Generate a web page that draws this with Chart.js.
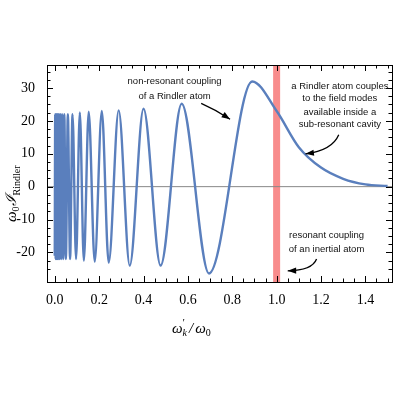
<!DOCTYPE html>
<html><head><meta charset="utf-8">
<script src="https://cdn.jsdelivr.net/npm/chart.js@4"></script>
<style>html,body{margin:0;background:#fff}#c{width:400px;height:400px}</style>
</head><body><div id="c"><canvas id="chart"></canvas></div>
<script>
// extrema of the curve, then the decaying tail
const curveX = [0.000, 0.002, 0.004, 0.006, 0.008, 0.010, 0.012, 0.014, 0.016, 0.019, 0.022, 0.025, 0.029, 0.033, 0.038, 0.043, 0.050, 0.059, 0.069, 0.080, 0.096,
  0.113, 0.131, 0.153, 0.180, 0.212, 0.243, 0.288, 0.338, 0.400, 0.477, 0.572, 0.695, 0.890,
  1.000, 1.100, 1.200, 1.300, 1.400, 1.500];
const curveY = [-21, 22, -22, 22, -22, 22, -22, 22, -22, 22, -22, 22, -22, 22, -22, 22, -22, 22, -22, 22, -22,
  22.6, -22.5, 22.8, -22.8, 23.0, -23.1, 23.2, -24.0, 23.7, -24.0, 25.2, -26.4, 32.0,
  23.0, 12.0, 5.8, 2.4, 0.7, 0.2];
const xTicks = [0.0, 0.2, 0.4, 0.6, 0.8, 1.0, 1.2, 1.4];
const yTicks = [-20, -10, 0, 10, 20, 30];
const resonance = 1.0;
const xRange = [-0.035, 1.52];
const yRange = [-29, 37];

const notes = [
  { lines: ['non-resonant coupling', 'of a Rindler atom'], x: 0.54, y: [32, 27.6],
    arrow: [[0.66, 25.3], [0.73, 23.2], [0.79, 20.5]] },
  { lines: ['a Rindler atom couples', 'to the field modes', 'available inside a', 'sub-resonant cavity'], x: 1.285, y: [30.6, 26.7, 22.7, 18.8],
    arrow: [[1.28, 15.8], [1.25, 11], [1.13, 10.0]] },
  { lines: ['resonant coupling', 'of an inertial atom'], x: 1.225, y: [-14.8, -19],
    arrow: [[1.18, -22], [1.16, -25.5], [1.05, -25.6]] }
];

function arrowHead(ctx, x0, y0, x1, y1) {
  const a = Math.atan2(y1 - y0, x1 - x0), L = 9, w = 0.35;
  ctx.beginPath();
  ctx.moveTo(x1, y1);
  ctx.lineTo(x1 - L * Math.cos(a - w), y1 - L * Math.sin(a - w));
  ctx.lineTo(x1 - L * Math.cos(a + w), y1 - L * Math.sin(a + w));
  ctx.closePath(); ctx.fill();
}

const decor = {
  id: 'decor',
  afterDraw(chart) {
    const { ctx, chartArea: a, scales: { x, y } } = chart;
    ctx.save();
    ctx.strokeStyle = '#000'; ctx.lineWidth = 1;
    ctx.strokeRect(a.left + 0.5, a.top + 0.5, a.width, a.height);
    // inward ticks
    ctx.beginPath();
    for (let v = -0.0; v <= 1.5001; v += 0.05) {
      const px = Math.round(x.getPixelForValue(v)) + 0.5;
      const major = Math.abs(v * 5 - Math.round(v * 5)) < 1e-6;
      const L = major ? 6 : 3.5;
      ctx.moveTo(px, a.bottom); ctx.lineTo(px, a.bottom - L);
      ctx.moveTo(px, a.top); ctx.lineTo(px, a.top + L);
    }
    for (let v = -25; v <= 35; v += 2.5) {
      const py = Math.round(y.getPixelForValue(v)) + 0.5;
      const L = v % 10 === 0 ? 6 : 3.5;
      ctx.moveTo(a.left, py); ctx.lineTo(a.left + L, py);
      ctx.moveTo(a.right, py); ctx.lineTo(a.right - L, py);
    }
    ctx.stroke();
    // annotations
    ctx.font = '9.5px "Liberation Sans", sans-serif';
    ctx.textAlign = 'center'; ctx.textBaseline = 'middle';
    notes.forEach(n => {
      ctx.fillStyle = '#111';
      n.lines.forEach((t, i) => ctx.fillText(t, x.getPixelForValue(n.x), y.getPixelForValue(n.y[i])));
      const p = n.arrow.map(q => [x.getPixelForValue(q[0]), y.getPixelForValue(q[1])]);
      ctx.lineWidth = 1.3; ctx.strokeStyle = '#000'; ctx.fillStyle = '#000';
      ctx.beginPath(); ctx.moveTo(p[0][0], p[0][1]);
      ctx.quadraticCurveTo(p[1][0], p[1][1], p[2][0], p[2][1]); ctx.stroke();
      arrowHead(ctx, p[1][0], p[1][1], p[2][0], p[2][1]);
    });
    // axis titles
    ctx.fillStyle = '#000'; ctx.textAlign = 'left'; ctx.textBaseline = 'alphabetic';
    let cx = 172;
    const put = (t, f, dy) => { ctx.font = f; ctx.fillText(t, cx, 333 + dy); cx += ctx.measureText(t).width; };
    put('ω', 'italic 15px "Liberation Serif"', 0);
    ctx.font = '11px "Liberation Serif"'; ctx.fillText('′', cx, 326);
    put('k', 'italic 10px "Liberation Serif"', 3); cx += 2;
    put('/', 'italic 15px "Liberation Serif"', 0); cx += 2;
    put('ω', 'italic 15px "Liberation Serif"', 0);
    put('0', '10px "Liberation Serif"', 3);
    ctx.translate(16, 222); ctx.rotate(-Math.PI / 2);
    cx = 0;
    const put2 = (t, f, dy) => { ctx.font = f; ctx.fillText(t, cx, dy); cx += ctx.measureText(t).width; };
    put2('ω', 'italic 15px "Liberation Serif"', 0);
    put2('0', '10px "Liberation Serif"', 3);
    put2('ℐ', 'italic 15px "DejaVu Serif"', 0);
    put2('Rindler', '10px "Liberation Serif"', 4);
    ctx.restore();
  }
};

const tickFont = { family: '"Liberation Serif", serif', size: 14 };
new Chart(document.getElementById('chart'), {
  type: 'line',
  data: {
    datasets: [
      { data: [{ x: resonance, y: yRange[0] }, { x: resonance, y: yRange[1] }], borderColor: '#f88c8c', borderWidth: 7,
        pointRadius: 0, order: 3 },
      { data: [{ x: xRange[0], y: 0 }, { x: xRange[1], y: 0 }], borderColor: '#888', borderWidth: 1, pointRadius: 0, order: 2 },
      { data: curveX.map((v, i) => ({ x: v, y: curveY[i] })), borderColor: '#5a7fbd', borderWidth: 2.4,
        cubicInterpolationMode: 'monotone', pointRadius: 0, order: 1 }
    ]
  },
  options: {
    responsive: true, maintainAspectRatio: false, animation: false,
    layout: { padding: { top: 65, right: 8, left: 0, bottom: 0 } },
    plugins: { legend: { display: false }, tooltip: { enabled: false } },
    scales: {
      x: { type: 'linear', min: xRange[0], max: xRange[1],
        afterBuildTicks: s => { s.ticks = xTicks.map(v => ({ value: v })); },
        afterFit: s => { s.height = 118; },
        grid: { display: false }, border: { display: false },
        ticks: { color: '#000', font: tickFont, padding: 2, maxRotation: 0, callback: v => v.toFixed(1) } },
      y: { min: yRange[0], max: yRange[1],
        afterBuildTicks: s => { s.ticks = yTicks.map(v => ({ value: v })); },
        afterFit: s => { s.width = 47; },
        grid: { display: false }, border: { display: false },
        ticks: { color: '#000', font: tickFont, padding: 4 } }
    }
  },
  plugins: [decor]
});
</script></body></html>
